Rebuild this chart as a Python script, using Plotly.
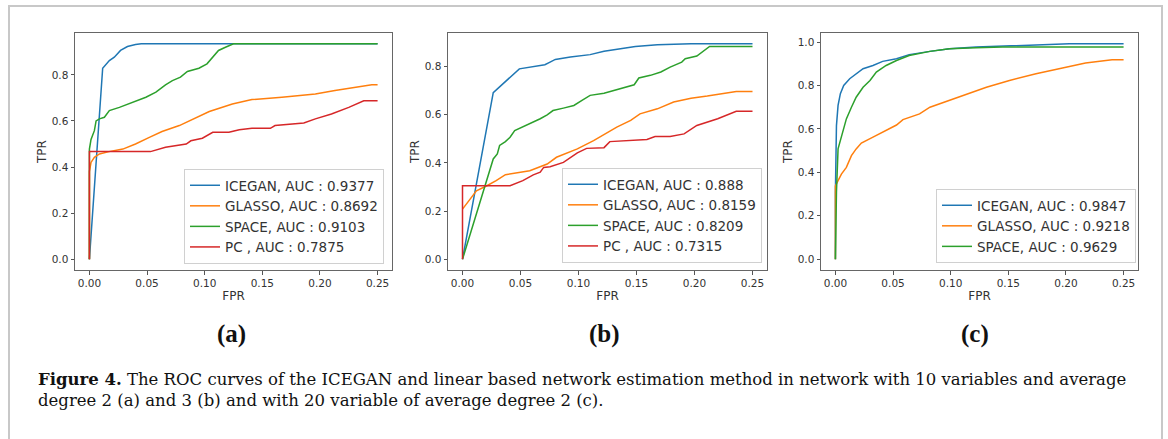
import plotly.graph_objects as go

# ---- data (FPR, TPR pairs) ----
# panel (a): 10 variables, average degree 2
a_icegan_fpr = [0, 0.0115, 0.0173, 0.0216, 0.027, 0.033, 0.040, 0.045, 0.25]
a_icegan_tpr = [0, 0.829, 0.862, 0.877, 0.906, 0.923, 0.932, 0.935, 0.935]
a_glasso_fpr = [0, 0, 0.0014, 0.0043, 0.0087, 0.017, 0.029, 0.040, 0.052, 0.063, 0.078,
                0.089, 0.104, 0.124, 0.141, 0.167, 0.196, 0.213, 0.231, 0.245, 0.25]
a_glasso_tpr = [0, 0.38, 0.42, 0.442, 0.457, 0.467, 0.478, 0.5, 0.529, 0.554, 0.58,
                0.606, 0.641, 0.674, 0.693, 0.703, 0.717, 0.732, 0.746, 0.757, 0.757]
a_space_fpr = [0, 0, 0.0014, 0.0043, 0.0058, 0.0087, 0.013, 0.0173, 0.026, 0.0375, 0.049,
               0.0577, 0.066, 0.072, 0.079, 0.085, 0.095, 0.102, 0.108, 0.112, 0.118, 0.125, 0.25]
a_space_tpr = [0, 0.478, 0.52, 0.558, 0.60, 0.609, 0.616, 0.645, 0.659, 0.681, 0.703,
               0.725, 0.757, 0.775, 0.79, 0.815, 0.829, 0.848, 0.881, 0.906, 0.92, 0.935, 0.935]
a_pc_fpr = [0, 0, 0.053, 0.066, 0.084, 0.088, 0.098, 0.107, 0.121, 0.130, 0.141, 0.157,
            0.161, 0.176, 0.186, 0.196, 0.21, 0.225, 0.238, 0.25]
a_pc_tpr = [0, 0.467, 0.467, 0.486, 0.5, 0.514, 0.525, 0.551, 0.551, 0.562, 0.568, 0.568,
            0.58, 0.587, 0.591, 0.609, 0.63, 0.659, 0.688, 0.688]

# panel (b): 10 variables, average degree 3
b_icegan_fpr = [0, 0.0265, 0.049, 0.061, 0.071, 0.0755, 0.080, 0.093, 0.110, 0.122,
                0.139, 0.149, 0.168, 0.197, 0.25]
b_icegan_tpr = [0, 0.691, 0.79, 0.80, 0.807, 0.818, 0.829, 0.839, 0.849, 0.863,
                0.874, 0.883, 0.89, 0.894, 0.894]
b_glasso_fpr = [0, 0.0063, 0.012, 0.021, 0.029, 0.037, 0.058, 0.073, 0.081, 0.099, 0.113,
                0.133, 0.145, 0.153, 0.168, 0.182, 0.197, 0.211, 0.225, 0.236, 0.25]
b_glasso_tpr = [0.208, 0.25, 0.284, 0.305, 0.326, 0.351, 0.367, 0.395, 0.423, 0.458, 0.492,
                0.548, 0.576, 0.603, 0.624, 0.652, 0.668, 0.677, 0.687, 0.696, 0.696]
b_space_fpr = [0, 0.0265, 0.030, 0.032, 0.037, 0.041, 0.045, 0.0496, 0.055, 0.060, 0.067,
               0.073, 0.078, 0.087, 0.096, 0.103, 0.110, 0.122, 0.136, 0.148, 0.152, 0.162,
               0.171, 0.179, 0.189, 0.192, 0.202, 0.208, 0.213, 0.25]
b_space_tpr = [0, 0.416, 0.437, 0.472, 0.488, 0.506, 0.534, 0.544, 0.555, 0.569, 0.583,
               0.599, 0.617, 0.627, 0.638, 0.659, 0.68, 0.689, 0.707, 0.724, 0.752, 0.763,
               0.777, 0.797, 0.818, 0.832, 0.843, 0.867, 0.883, 0.883]
b_pc_fpr = [0, 0, 0.041, 0.052, 0.061, 0.067, 0.070, 0.0755, 0.087, 0.094, 0.099, 0.107,
            0.122, 0.127, 0.139, 0.159, 0.166, 0.179, 0.191, 0.202, 0.22, 0.236, 0.25]
b_pc_tpr = [0, 0.305, 0.305, 0.326, 0.35, 0.361, 0.381, 0.384, 0.402, 0.423, 0.441, 0.46,
            0.463, 0.488, 0.492, 0.497, 0.509, 0.509, 0.52, 0.555, 0.583, 0.614, 0.614]

# panel (c): 20 variables, average degree 2
c_icegan_fpr = [0, 0, 0.0009, 0.0023, 0.0043, 0.0072, 0.0124, 0.018, 0.024, 0.0326, 0.041,
                0.053, 0.064, 0.082, 0.099, 0.122, 0.160, 0.203, 0.25]
c_icegan_tpr = [0, 0.31, 0.615, 0.708, 0.762, 0.80, 0.831, 0.854, 0.877, 0.892, 0.911,
                0.923, 0.942, 0.957, 0.969, 0.977, 0.985, 0.992, 0.992]
c_glasso_fpr = [0, 0, 0.0023, 0.0052, 0.0095, 0.0139, 0.018, 0.0225, 0.0326, 0.044, 0.053,
                0.0586, 0.073, 0.082, 0.096, 0.111, 0.131, 0.151, 0.174, 0.197, 0.217, 0.240, 0.25]
c_glasso_tpr = [0, 0.338, 0.362, 0.392, 0.423, 0.477, 0.508, 0.535, 0.562, 0.592, 0.618,
                0.643, 0.669, 0.70, 0.726, 0.754, 0.792, 0.823, 0.854, 0.88, 0.903, 0.918, 0.918]
c_space_fpr = [0, 0.0009, 0.0023, 0.0052, 0.0095, 0.0139, 0.018, 0.024, 0.030, 0.0355,
               0.044, 0.053, 0.064, 0.082, 0.099, 0.122, 0.145, 0.25]
c_space_tpr = [0, 0.31, 0.508, 0.569, 0.646, 0.70, 0.746, 0.792, 0.823, 0.862,
               0.892, 0.915, 0.938, 0.957, 0.969, 0.974, 0.977, 0.977]

names_a = ["ICEGAN, AUC : 0.9377", "GLASSO, AUC : 0.8692", "SPACE, AUC : 0.9103", "PC , AUC : 0.7875"]
names_b = ["ICEGAN, AUC : 0.888", "GLASSO, AUC : 0.8159", "SPACE, AUC : 0.8209", "PC , AUC : 0.7315"]
names_c = ["ICEGAN, AUC : 0.9847", "GLASSO, AUC : 0.9218", "SPACE, AUC : 0.9629"]

colors = ["#1f77b4", "#ff7f0e", "#2ca02c", "#d62728"]

W, H = 1168, 439

fig = go.Figure()

panels = [
    ("x", "y", "legend", names_a,
     [(a_icegan_fpr, a_icegan_tpr), (a_glasso_fpr, a_glasso_tpr),
      (a_space_fpr, a_space_tpr), (a_pc_fpr, a_pc_tpr)]),
    ("x2", "y2", "legend2", names_b,
     [(b_icegan_fpr, b_icegan_tpr), (b_glasso_fpr, b_glasso_tpr),
      (b_space_fpr, b_space_tpr), (b_pc_fpr, b_pc_tpr)]),
    ("x3", "y3", "legend3", names_c,
     [(c_icegan_fpr, c_icegan_tpr), (c_glasso_fpr, c_glasso_tpr),
      (c_space_fpr, c_space_tpr)]),
]

for xa, ya, leg, names, curves in panels:
    for i, (fx, ty) in enumerate(curves):
        fig.add_trace(go.Scatter(
            x=fx, y=ty, mode="lines", name=names[i],
            line=dict(color=colors[i], width=1.5),
            xaxis=xa, yaxis=ya, legend=leg,
        ))

tick_font = dict(family="DejaVu Sans", size=10.5, color="#333")
title_font = dict(family="DejaVu Sans", size=12, color="#333")


def xax(x0, x1, anchor):
    return dict(domain=[x0 / W, x1 / W], range=[-0.0125, 0.2625], anchor=anchor,
                tickvals=[0, 0.05, 0.1, 0.15, 0.2, 0.25], tickformat=".2f",
                ticks="outside", ticklen=3.5, tickcolor="#555",
                showline=True, mirror=True, linecolor="#666", linewidth=1,
                showgrid=False, zeroline=False, tickfont=tick_font,
                title=dict(text="FPR", font=title_font, standoff=3))


def yax(top_val, ticks, anchor):
    return dict(domain=[1 - 270 / H, 1 - 33 / H], range=[-top_val * 0.05, top_val * 1.05],
                tickvals=ticks, tickformat=".1f", anchor=anchor,
                ticks="outside", ticklen=3.5, tickcolor="#555",
                showline=True, mirror=True, linecolor="#666", linewidth=1,
                showgrid=False, zeroline=False, tickfont=tick_font,
                title=dict(text="TPR", font=title_font, standoff=2))


leg_style = dict(font=dict(family="DejaVu Sans", size=13.5, color="#333"),
                 bgcolor="rgba(255,255,255,0.8)", bordercolor="#d0d0d0", borderwidth=1,
                 xanchor="right", yanchor="bottom", tracegroupgap=0)

fig.update_layout(
    width=W, height=H,
    margin=dict(l=0, r=0, t=0, b=0),
    paper_bgcolor="white", plot_bgcolor="white",
    xaxis=xax(75, 392, "y"), yaxis=yax(0.935, [0, 0.2, 0.4, 0.6, 0.8], "x"),
    xaxis2=xax(448, 767, "y2"), yaxis2=yax(0.894, [0, 0.2, 0.4, 0.6, 0.8], "x2"),
    xaxis3=xax(821, 1138, "y3"), yaxis3=yax(0.992, [0, 0.2, 0.4, 0.6, 0.8, 1.0], "x3"),
    legend=dict(leg_style, x=384 / W, y=1 - 264 / H),
    legend2=dict(leg_style, x=762 / W, y=1 - 263 / H),
    legend3=dict(leg_style, x=1136 / W, y=1 - 263 / H),
    showlegend=True,
)

# outer frame of the figure box
fig.add_shape(type="rect", xref="paper", yref="paper",
              x0=9 / W, x1=1162 / W, y0=-0.05, y1=1 - 6 / H,
              line=dict(color="#c8c8c8", width=2), layer="below")

for lab, cx in [("(a)", 231), ("(b)", 604), ("(c)", 975)]:
    fig.add_annotation(text="<b>%s</b>" % lab, x=cx / W, y=1 - 334 / H,
                       xref="paper", yref="paper", showarrow=False,
                       xanchor="center", yanchor="middle",
                       font=dict(family="Liberation Serif", size=25, color="#111"))

caption = ("<b>Figure 4.</b> The ROC curves of the ICEGAN and linear based network estimation "
           "method in network with 10 variables and average<br>degree 2 (a) and 3 (b) and with "
           "20 variable of average degree 2 (c).")
fig.add_annotation(text=caption, x=36 / W, y=1 - 390 / H, xref="paper", yref="paper",
                   xanchor="left", yanchor="middle", align="left", showarrow=False,
                   font=dict(family="DejaVu Serif", size=16.5, color="#111"))

# page body has a default 8px margin; drop it so the figure sits at the window origin
fig.write_html("out.html", config={"displayModeBar": False},
               post_script="document.body.style.margin='0';")
